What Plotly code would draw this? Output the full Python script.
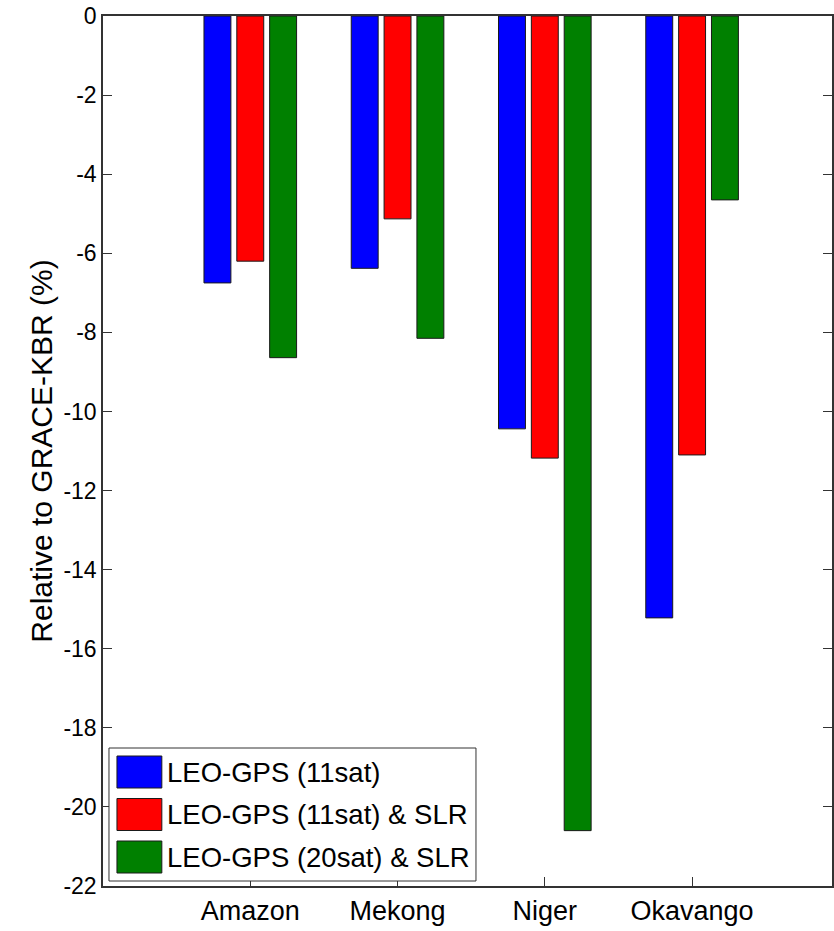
import plotly.graph_objects as go

# ---- data ----
categories = ["Amazon", "Mekong", "Niger", "Okavango"]
series_names = ["LEO-GPS (11sat)", "LEO-GPS (11sat) & SLR", "LEO-GPS (20sat) & SLR"]
gps11 = [-6.75, -6.38, -10.44, -15.22]
gps11_slr = [-6.20, -5.13, -11.18, -11.10]
gps20_slr = [-8.64, -8.15, -20.60, -4.65]
series_values = [gps11, gps11_slr, gps20_slr]
series_colors = ["#0000FF", "#FF0000", "#008000"]
ytick_vals = [0, -2, -4, -6, -8, -10, -12, -14, -16, -18, -20, -22]
ytick_text = ["0", "-2", "-4", "-6", "-8", "-10", "-12", "-14", "-16", "-18", "-20", "-22"]

# ---- layout constants ----
W, H = 834, 931
ML, MR, MT, MB = 103, 0, 16, 45
FONT = "Liberation Sans, Arial, Helvetica, sans-serif"
xpos = list(range(1, len(categories) + 1))

fig = go.Figure()
for name, vals, col in zip(series_names, series_values, series_colors):
    fig.add_trace(go.Bar(
        x=xpos, y=vals, name=name,
        marker=dict(color=col, line=dict(color="#1a1a1a", width=1)),
        showlegend=False,
    ))

# manual legend (large swatches like the original)
pw, ph = W - ML - MR, H - MT - MB
def px(x):
    return (x - ML) / pw
def py(y):
    return 1 - (y - MT) / ph

shapes = [dict(type="rect", xref="paper", yref="paper",
               x0=px(109), x1=px(477), y0=py(881), y1=py(748),
               line=dict(color="#333", width=1), fillcolor="white", layer="above")]
annotations = []
row_top = 756
for i, (name, col) in enumerate(zip(series_names, series_colors)):
    t = row_top + i * 42.5
    shapes.append(dict(type="rect", xref="paper", yref="paper",
                       x0=px(117), x1=px(162), y0=py(t + 32), y1=py(t),
                       line=dict(color="#1a1a1a", width=1), fillcolor=col, layer="above"))
    annotations.append(dict(xref="paper", yref="paper", x=px(165), y=py(t + 16),
                            text=name, showarrow=False, xanchor="left", yanchor="middle",
                            font=dict(family=FONT, size=27.5, color="black")))

fig.update_layout(
    width=W, height=H,
    margin=dict(l=ML, r=MR, t=MT, b=MB),
    paper_bgcolor="white", plot_bgcolor="white",
    barmode="group", bargap=0.331, bargroupgap=0.18,
    font=dict(family=FONT, color="black"),
    shapes=shapes, annotations=annotations,
    xaxis=dict(
        range=[0, 4.95], tickvals=xpos, ticktext=categories,
        ticks="inside", ticklen=9, tickcolor="#333", mirror=True,
        showline=True, linecolor="#333", linewidth=1.5,
        showgrid=False, zeroline=False,
        tickfont=dict(family=FONT, size=27, color="black"),
    ),
    yaxis=dict(
        range=[-22, 0], tickvals=ytick_vals, ticktext=ytick_text,
        ticks="inside", ticklen=9, tickcolor="#333", mirror="allticks",
        showline=True, linecolor="#333", linewidth=1.5,
        showgrid=False, zeroline=False,
        tickfont=dict(family=FONT, size=23, color="black"),
        title=dict(text="Relative to GRACE-KBR (%)", standoff=2,
                   font=dict(family=FONT, size=30, color="black")),
    ),
)

fig.write_html("out.html", config={"displayModeBar": False},
               post_script="document.body.style.margin='0';")
